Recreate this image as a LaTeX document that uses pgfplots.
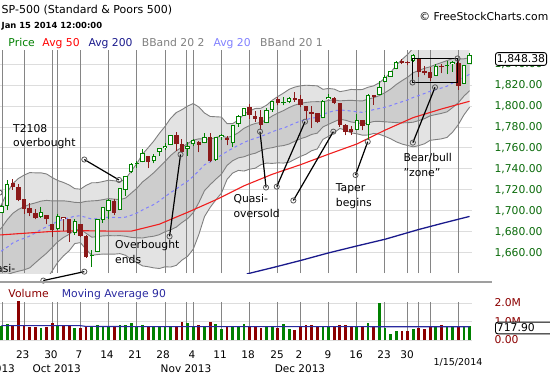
\documentclass[border=0pt]{standalone}
\usepackage{pgfplots}
\pgfplotsset{compat=1.18}
\usepgfplotslibrary{fillbetween}
\usepackage{pgfplotstable}
\usepackage{fontspec}
\setmainfont{DejaVu Sans}
\definecolor{cgreen}{HTML}{008000}
\definecolor{cred}{HTML}{8B1A1A}
\definecolor{lblgreen}{HTML}{0A6A0A}
\definecolor{navyc}{HTML}{1A1A8C}
\definecolor{avgtw}{HTML}{8080FF}
\definecolor{bandline}{HTML}{808080}
\definecolor{outerfill}{HTML}{E3E3E3}
\definecolor{innerfill}{HTML}{CDCDCD}
\definecolor{vline}{HTML}{858585}
\definecolor{hgrid}{HTML}{DDDDDD}
\definecolor{volred}{HTML}{8B0000}
\definecolor{volblue}{HTML}{2A2AA0}
\definecolor{redma}{HTML}{F01E1E}
\definecolor{circ}{HTML}{5A5A5A}
\newcommand\F{\fontsize{10.8bp}{13bp}\selectfont}
\pgfplotsset{
  cand/.style 2 args={only marks, mark=*, mark size=0pt, mark options={draw=none, fill=none}, forget plot,
    error bars/.cd, y dir=plus, y explicit, error mark=none,
    error bar style={line width=#1, draw=#2, solid, line cap=butt}},
  panel/.style={scale only axis, width=472bp, xmin=0.74, xmax=84.43,
    axis line style={draw=none}, major tick length=0pt, tick style={draw=none}, xtick=\empty,
    yticklabel pos=right, ymajorgrids, grid style={draw=hgrid, line width=0.8bp}},
  ann/.style={draw=black, solid, line width=1.2bp, mark=o, mark size=2.6bp,
    mark options={solid, draw=circ, line width=0.8bp, fill=none}, forget plot},
}
\pgfplotstableread{
i u2 u1 m l1 l2
0 1698.7 1678.7 1658.6 1638.6 1618.5
1 1705.9 1683.7 1661.6 1639.4 1617.2
2 1717.3 1691.3 1665.2 1639.1 1613.1
3 1725.8 1697.5 1669.2 1640.9 1612.6
4 1730.8 1701.3 1671.8 1642.3 1612.8
5 1734.0 1703.8 1673.7 1643.6 1613.4
6 1736.4 1706.1 1675.8 1645.5 1615.2
7 1736.2 1707.5 1678.9 1650.3 1621.6
8 1736.2 1709.2 1682.1 1655.0 1628.0
9 1735.1 1709.9 1684.7 1659.5 1634.3
10 1731.7 1709.4 1687.2 1665.0 1642.7
11 1728.8 1709.4 1689.9 1670.5 1651.0
12 1727.0 1709.5 1692.0 1674.5 1657.0
13 1724.6 1708.9 1693.2 1677.5 1661.8
14 1721.1 1708.0 1694.9 1681.8 1668.7
15 1720.6 1707.8 1695.1 1682.4 1669.6
16 1724.2 1709.0 1693.7 1678.5 1663.2
17 1726.7 1709.4 1692.1 1674.8 1657.5
18 1726.8 1709.7 1692.5 1675.3 1658.2
19 1727.9 1710.6 1693.3 1676.0 1658.7
20 1729.2 1711.6 1693.9 1676.3 1658.6
21 1728.6 1711.1 1693.6 1676.1 1658.6
22 1727.7 1710.6 1693.4 1676.3 1659.1
23 1730.3 1712.1 1693.9 1675.7 1657.5
24 1737.8 1716.8 1695.7 1674.6 1653.6
25 1745.0 1721.4 1697.8 1674.2 1650.6
26 1754.0 1727.4 1700.7 1674.0 1647.4
27 1760.1 1731.7 1703.4 1675.0 1646.6
28 1766.5 1736.3 1706.0 1675.7 1645.5
29 1773.9 1741.6 1709.4 1677.2 1644.9
30 1780.5 1747.0 1713.5 1680.0 1646.5
31 1788.3 1752.8 1717.3 1681.8 1646.3
32 1793.7 1757.2 1720.8 1684.4 1647.9
33 1796.5 1760.6 1724.7 1688.8 1652.9
34 1799.9 1764.1 1728.2 1692.4 1656.5
35 1802.3 1767.5 1732.8 1698.1 1663.3
36 1799.0 1768.6 1738.2 1707.8 1677.4
37 1793.3 1768.6 1743.9 1719.2 1694.5
38 1790.0 1768.3 1746.6 1724.9 1703.2
39 1789.7 1769.9 1750.0 1730.1 1710.3
40 1789.4 1771.3 1753.1 1734.9 1716.8
41 1783.2 1769.9 1756.6 1743.3 1730.0
42 1783.2 1771.4 1759.6 1747.8 1736.0
43 1786.5 1774.5 1762.5 1750.5 1738.5
44 1792.3 1778.7 1765.1 1751.5 1737.9
45 1795.3 1781.4 1767.5 1753.6 1739.7
46 1797.6 1783.3 1769.1 1754.9 1740.6
47 1797.8 1784.4 1770.9 1757.4 1744.0
48 1800.7 1786.9 1773.1 1759.3 1745.5
49 1805.4 1790.4 1775.3 1760.2 1745.2
50 1809.0 1793.2 1777.4 1761.5 1745.7
51 1812.3 1795.6 1778.9 1762.2 1745.5
52 1815.9 1798.5 1781.1 1763.7 1746.3
53 1818.0 1800.8 1783.6 1766.3 1749.1
54 1819.2 1802.4 1785.5 1768.7 1751.8
55 1819.8 1803.4 1786.9 1770.4 1754.0
56 1819.5 1804.0 1788.4 1772.8 1757.3
57 1819.2 1804.1 1789.1 1774.1 1759.0
58 1815.9 1804.0 1792.0 1780.0 1768.1
59 1816.7 1805.3 1793.9 1782.5 1771.1
60 1816.1 1805.8 1795.4 1785.0 1774.7
61 1813.7 1804.9 1796.1 1787.3 1778.5
62 1814.6 1805.2 1795.8 1786.4 1777.0
63 1815.8 1805.4 1795.1 1784.7 1774.3
64 1815.5 1805.0 1794.5 1784.0 1773.5
65 1815.7 1804.8 1793.9 1783.0 1772.1
66 1817.9 1806.5 1795.1 1783.7 1772.3
67 1819.2 1807.9 1796.5 1785.2 1773.8
68 1822.2 1809.9 1797.6 1785.3 1773.0
69 1826.6 1812.7 1798.8 1784.9 1771.0
70 1831.9 1816.1 1800.3 1784.5 1768.7
71 1838.8 1820.5 1802.3 1784.1 1765.8
72 1844.3 1824.1 1804.0 1783.9 1763.7
73 1849.1 1827.4 1805.7 1784.0 1762.3
74 1855.2 1831.7 1808.1 1784.5 1761.0
75 1857.8 1833.9 1810.0 1786.1 1762.2
76 1859.9 1835.9 1811.9 1787.9 1763.9
77 1860.8 1837.4 1814.0 1790.6 1767.2
78 1863.3 1839.5 1815.6 1791.8 1767.9
79 1865.6 1841.4 1817.1 1792.9 1768.6
80 1867.7 1843.3 1818.9 1794.4 1770.0
81 1868.7 1845.3 1821.9 1798.5 1775.1
82 1865.8 1844.9 1824.0 1803.1 1782.2
83 1862.9 1845.0 1827.2 1809.4 1791.5
84 1861.8 1846.1 1830.3 1814.6 1798.8
}\bands
\pgfplotstableread{
i v
0 1676.8
1 1677.0
5 1678.5
10 1680.3
15 1681.0
20 1680.6
24 1680.5
29 1687.2
34 1698.5
39 1710.4
44 1723.8
49 1734.8
54 1743.9
59 1754.0
64 1763.7
69 1776.9
74 1788.9
79 1797.1
84 1804.5
}\smafifty
\pgfplotstableread{
i v
44.5 1639.7
49.5 1646.3
54 1652.5
59 1659.8
64 1666.4
69 1672.8
74.9 1682.0
79 1687.8
82 1691.9
84 1694.6
}\smatwohundred
\pgfplotstableread{
i o h l c
1 1697.73 1705.52 1697.73 1704.76
2 1704.70 1729.44 1700.35 1725.52
8 1694.05 1703.85 1693.11 1698.67
11 1682.41 1696.55 1682.07 1695.00
14 1678.79 1691.94 1677.33 1690.50
18 1660.88 1692.56 1660.88 1692.56
19 1691.09 1703.44 1688.52 1703.20
20 1699.86 1711.03 1692.13 1710.14
22 1700.49 1721.76 1700.49 1721.54
23 1720.17 1733.45 1714.12 1733.15
24 1736.72 1745.31 1735.74 1744.50
26 1746.48 1759.33 1746.48 1754.67
28 1747.48 1753.94 1745.50 1752.07
29 1756.01 1759.82 1752.45 1759.77
30 1759.42 1764.99 1757.67 1762.11
31 1762.93 1772.09 1762.93 1771.95
34 1758.70 1765.67 1752.70 1761.64
35 1763.40 1768.78 1761.56 1767.93
37 1765.00 1773.74 1764.40 1770.49
39 1748.37 1770.78 1747.63 1770.61
40 1769.96 1773.44 1767.85 1771.89
42 1764.37 1782.00 1760.64 1782.00
43 1782.75 1791.53 1780.22 1790.62
44 1790.66 1798.22 1790.66 1798.18
48 1783.53 1798.15 1783.53 1795.85
49 1796.19 1804.84 1794.70 1804.76
52 1803.48 1808.27 1802.77 1807.23
58 1788.36 1806.04 1788.36 1805.09
59 1806.21 1811.52 1806.21 1808.37
64 1777.48 1792.22 1777.48 1786.54
66 1781.46 1811.08 1767.99 1810.65
68 1810.39 1823.75 1810.25 1818.32
69 1822.92 1829.75 1822.92 1827.99
70 1828.02 1833.32 1828.02 1833.32
71 1834.96 1842.84 1834.96 1842.02
74 1842.61 1849.44 1842.41 1848.36
78 1828.71 1840.10 1828.71 1837.88
81 1840.06 1843.15 1832.43 1842.37
83 1821.36 1839.26 1821.36 1838.88
84 1840.52 1850.84 1840.52 1848.38
}\candG
\pgfplotstableread{
i o h l c
3 1726.37 1729.86 1720.20 1722.34
4 1722.44 1725.23 1708.89 1709.91
5 1711.44 1711.44 1697.10 1701.84
6 1702.60 1707.63 1694.90 1697.42
7 1698.02 1701.71 1691.88 1692.77
9 1695.52 1695.52 1687.11 1691.75
10 1687.26 1687.26 1674.99 1681.55
13 1692.35 1692.35 1670.36 1678.66
15 1687.15 1687.15 1674.70 1676.12
16 1676.22 1676.79 1655.03 1655.45
21 1709.17 1711.57 1695.93 1698.06
27 1752.27 1752.27 1740.50 1746.38
32 1772.27 1775.22 1757.24 1763.31
33 1763.24 1768.53 1755.72 1756.54
36 1765.67 1767.03 1755.76 1762.97
38 1770.74 1774.54 1746.20 1747.15
41 1769.51 1771.78 1762.29 1767.69
45 1798.82 1802.33 1788.00 1791.53
46 1790.79 1795.51 1784.72 1787.87
47 1789.59 1795.73 1777.23 1781.37
50 1806.33 1808.10 1800.58 1802.48
53 1808.01 1813.55 1803.98 1805.81
54 1806.55 1810.02 1798.60 1800.90
55 1800.10 1800.10 1787.85 1795.15
56 1794.01 1799.80 1779.09 1792.81
57 1792.82 1792.82 1783.38 1785.03
60 1807.60 1808.52 1801.75 1802.62
61 1802.76 1802.97 1780.09 1782.22
62 1781.71 1782.99 1772.28 1775.50
63 1777.98 1780.92 1772.45 1775.32
65 1786.47 1786.77 1777.05 1781.00
72 1842.97 1844.89 1839.81 1841.40
73 1841.47 1842.47 1838.77 1841.07
75 1845.86 1845.86 1827.74 1831.98
76 1833.21 1838.24 1829.13 1831.37
77 1832.31 1837.16 1823.73 1826.77
79 1837.90 1840.02 1831.40 1837.49
82 1841.26 1843.45 1815.52 1819.20
}\candR
\pgfplotstableread{
i o h l c
12 1691.90 1693.87 1680.34 1693.87
67 1809.00 1810.88 1801.35 1809.60
}\candHR
\pgfplotstableread{
i o h l c
17 1656.99 1662.47 1646.47 1656.40
25 1745.20 1747.79 1740.67 1744.66
51 1802.87 1808.42 1800.77 1802.75
80 1839.00 1843.23 1830.38 1838.13
}\candFG
\pgfplotstableread{
i v
1 0.75
2 0.865
8 0.67
11 0.81
14 0.67
17 0.76
18 0.81
19 0.72
20 0.68
22 0.81
23 0.81
24 0.94
25 0.72
26 0.81
28 0.76
29 0.76
30 0.76
31 0.76
34 0.90
35 0.72
37 0.76
39 0.88
40 0.59
42 0.72
43 0.72
44 0.86
48 0.72
49 0.68
51 0.86
52 0.59
58 0.72
59 0.72
64 0.72
66 0.94
68 2.02
69 0.67
70 0.32
71 0.50
74 0.59
78 0.72
80 0.72
81 0.72
83 0.72
84 0.76
}\volG
\pgfplotstableread{
i v
3 0.81
4 2.12
5 0.77
6 0.72
7 0.72
9 0.72
10 0.94
12 0.77
13 0.77
15 0.67
16 0.76
21 0.72
27 0.76
32 0.76
33 0.97
36 0.81
38 0.97
41 0.72
45 0.72
46 0.68
47 0.63
50 0.67
53 0.54
54 0.72
55 0.81
56 0.81
57 0.76
60 0.72
61 0.81
62 0.81
63 0.72
65 0.72
67 0.76
72 0.50
73 0.50
75 0.67
76 0.59
77 0.72
79 0.81
82 0.72
}\volR
\pgfplotstableread{
i v
1 0.775
10 0.78
15 0.775
16 0.735
25 0.725
40 0.72
60 0.72
84 0.718
}\volma
\begin{document}
\begin{tikzpicture}[x=1bp,y=1bp]
% ---------------- price panel
\begin{axis}[panel, name=main, at={(0bp,-50bp)}, anchor=north west, height=223bp,
  ymin=1640.6, ymax=1853.4, ytick={1660,1680,...,1840}, scaled y ticks=false,
  yticklabel style={anchor=west, xshift=19bp, font=\F, text=lblgreen,
    /pgf/number format/.cd, fixed, fixed zerofill, precision=2, 1000 sep={,}, assume math mode=true}]
\addplot[draw=none, name path=U2, forget plot] table[x=i,y=u2]{\bands};
\addplot[draw=none, name path=L2, forget plot] table[x=i,y=l2]{\bands};
\addplot[draw=none, name path=U1, forget plot] table[x=i,y=u1]{\bands};
\addplot[draw=none, name path=L1, forget plot] table[x=i,y=l1]{\bands};
\addplot[fill=outerfill, draw=none, forget plot] fill between[of=U2 and L2];
\addplot[fill=innerfill, draw=none, forget plot] fill between[of=U1 and L1];
\pgfplotsinvokeforeach{1.22,5,10,10.9,15,20,25,30,33.75,35,40,45,50,54,59,64,69,73,74.9,77,82}{
  \draw[vline, line width=1bp] (axis cs:#1,1640.6) -- (axis cs:#1,1853.4);}
\addplot[bandline, line width=0.9bp, forget plot] table[x=i,y=u2]{\bands};
\addplot[bandline, line width=0.9bp, forget plot] table[x=i,y=l2]{\bands};
\addplot[bandline, line width=0.9bp, forget plot] table[x=i,y=u1]{\bands};
\addplot[bandline, line width=0.9bp, forget plot] table[x=i,y=l1]{\bands};
\addplot[avgtw, line width=1bp, dash pattern=on 3bp off 3bp, forget plot] table[x=i,y=m]{\bands};
\addplot[navyc, line width=1.3bp, forget plot] table[x=i,y=v]{\smatwohundred};
\addplot[redma, line width=1.1bp, forget plot] table[x=i,y=v]{\smafifty};
% candles: wicks
\addplot[cand={1bp}{cgreen}] table[x=i, y=l, y error plus expr=\thisrow{h}-\thisrow{l}]{\candG};
\addplot[cand={1bp}{cred}] table[x=i, y=l, y error plus expr=\thisrow{h}-\thisrow{l}]{\candR};
\addplot[cand={1bp}{cred}] table[x=i, y=l, y error plus expr=\thisrow{h}-\thisrow{l}]{\candHR};
\addplot[cand={1bp}{cgreen}] table[x=i, y=l, y error plus expr=\thisrow{h}-\thisrow{l}]{\candFG};
% bodies
\addplot[cand={4.4bp}{cgreen}] table[x=i, y=o, y error plus expr={max(\thisrow{c}-\thisrow{o},1)}]{\candG};
\addplot[cand={2.4bp}{white}] table[x=i, y expr=\thisrow{o}+0.95, y error plus expr={max(\thisrow{c}-\thisrow{o}-1.9,0)}]{\candG};
\addplot[cand={4.4bp}{cred}] table[x=i, y=o, y error plus expr={max(\thisrow{c}-\thisrow{o},1)}]{\candHR};
\addplot[cand={2.4bp}{white}] table[x=i, y expr=\thisrow{o}+0.95, y error plus expr={max(\thisrow{c}-\thisrow{o}-1.9,0)}]{\candHR};
\addplot[cand={4.4bp}{cred}] table[x=i, y=c, y error plus expr={max(\thisrow{o}-\thisrow{c},1)}]{\candR};
\addplot[cand={4.4bp}{cgreen}] table[x=i, y=c, y error plus expr={max(\thisrow{o}-\thisrow{c},1)}]{\candFG};
\end{axis}
% ---------------- annotations overlay
\begin{axis}[scale only axis, width=472bp, height=223bp, at={(main.north west)}, anchor=north west,
  xmin=0.74, xmax=84.43, ymin=1640.6, ymax=1853.4, hide axis, clip=false]
\addplot[ann] coordinates {(15.69,1748.9) (21.84,1729.4)};
\addplot[ann] coordinates {(30.80,1675.5) (32.75,1753.7)};
\addplot[ann] coordinates {(47.91,1722.2) (46.84,1775.5)};
\addplot[ann] coordinates {(49.81,1723.0) (54.82,1785.0)};
\addplot[ann] coordinates {(52.75,1709.8) (59.84,1775.5)};
\addplot[ann] coordinates {(63.78,1734.1) (65.94,1765.9)};
\addplot[ann] coordinates {(73.94,1765.0) (77.87,1817.8)};
\addplot[draw=black, solid, mark=none, line width=1.6bp, line join=miter, forget plot] coordinates {(73.88,1845.3) (81.86,1845.3) (81.86,1822.4) (73.88,1822.4) (73.88,1845.3)};
\addplot[ann, only marks] coordinates {(73.88,1822.4) (81.86,1845.3)};
\addplot[ann] coordinates {(15.69,1641.9) (8.42,1633.4)};
\addplot[ann, only marks] coordinates {(0.66,1717.3)};
\end{axis}
% ---------------- volume panel
\begin{axis}[panel, at={(main.south west)}, anchor=north west, yshift=-23bp, height=44bp,
  ymin=0, ymax=2.378, ytick={0,1,2}, yticklabels={0.00,1.0M,2.0M},
  yticklabel style={anchor=west, xshift=19bp, font=\F, text=volred}]
\pgfplotsinvokeforeach{1.22,5,10,10.9,15,20,25,30,33.75,35,40,45,50,54,59,64,69,73,74.9,77,82}{
  \draw[vline, line width=1bp] (axis cs:#1,0) -- (axis cs:#1,2.07);}
\addplot[ycomb, draw=cgreen, line width=2.8bp, mark=none, forget plot] table[x=i,y=v]{\volG};
\addplot[ycomb, draw=volred, line width=2.8bp, mark=none, forget plot] table[x=i,y=v]{\volR};
\addplot[volblue, line width=1.1bp, forget plot] table[x=i,y=v]{\volma};
\end{axis}
% ---------------- separators and boxes
\draw[gray!75, line width=1.4bp] (0,-282) -- (492,-282);
\node[draw=black, fill=white, rounded corners=2.5bp, inner xsep=1.5bp, inner ysep=1.8bp, anchor=west, font=\F, line width=0.9bp] at (495,-59) {1,848.38};
\node[draw=black, fill=white, rounded corners=2.5bp, inner xsep=1.5bp, inner ysep=1.8bp, anchor=west, font=\F, line width=0.9bp, text width=57bp, align=left] at (495,-328) {717.90};
% ---------------- header
\node[anchor=base west, inner sep=0, font=\fontsize{11bp}{13bp}\selectfont] at (1.5,-13.5) {SP-500 (Standard \& Poors 500)};
\node[anchor=base west, inner sep=0, font=\fontsize{8.4bp}{10bp}\selectfont\bfseries] at (1.5,-28.3) {Jan 15 2014 12:00:00};
\node[anchor=base east, inner sep=0, font=\F] at (548.5,-20.5) {© FreeStockCharts.com};
\node[anchor=base west, inner sep=0, font=\F, text=cgreen] at (8.3,-46.7) {Price};
\node[anchor=base west, inner sep=0, font=\F, text=red] at (42.3,-46.7) {Avg 50};
\node[anchor=base west, inner sep=0, font=\F, text=navyc] at (88.3,-46.7) {Avg 200};
\node[anchor=base west, inner sep=0, font=\F, text=gray] at (141.7,-46.7) {BBand 20 2};
\node[anchor=base west, inner sep=0, font=\F, text=avgtw] at (213.3,-46.7) {Avg 20};
\node[anchor=base west, inner sep=0, font=\F, text=gray] at (260,-46.7) {BBand 20 1};
% ---------------- annotation texts
\node[anchor=base west, inner sep=0, font=\F] at (13,-132.3) {T2108};
\node[anchor=base west, inner sep=0, font=\F] at (13,-146.7) {overbought};
\node[anchor=base west, inner sep=0, font=\F] at (115,-248.3) {Overbought};
\node[anchor=base west, inner sep=0, font=\F] at (115,-263.3) {ends};
\node[anchor=base west, inner sep=0, font=\F] at (233.3,-202.3) {Quasi-};
\node[anchor=base west, inner sep=0, font=\F] at (233.3,-217.7) {oversold};
\node[anchor=base west, inner sep=0, font=\F] at (335.7,-191.3) {Taper};
\node[anchor=base west, inner sep=0, font=\F] at (335.7,-206.3) {begins};
\node[anchor=base west, inner sep=0, font=\F] at (403.3,-161.7) {Bear/bull};
\node[anchor=base west, inner sep=0, font=\F] at (403.3,-176.7) {"zone"};
\node[anchor=base east, inner sep=0, font=\F] at (15.5,-272.7) {Quasi-};
% ---------------- volume labels
\node[anchor=base west, inner sep=0, font=\F, text=volred] at (8.3,-297) {Volume};
\node[anchor=base west, inner sep=0, font=\F, text=volblue] at (61.7,-297) {Moving Average 90};
% ---------------- date labels
\foreach \xx/\lab in {22.7/23, 51/30, 79/7, 107/14, 135/21, 163/28, 192/4, 220/11, 248/18, 277/25, 299/2, 328/9, 356/16, 384/23, 407/30}
  \node[anchor=base, inner sep=0, font=\fontsize{10.5bp}{12bp}\selectfont] at (\xx,-358.3) {\lab};
\foreach \xx/\lab in {-10/Sep 2013, 56.7/Oct 2013, 186/Nov 2013, 300/Dec 2013}
  \node[anchor=base, inner sep=0, font=\fontsize{10.5bp}{12bp}\selectfont] at (\xx,-372.3) {\lab};
\node[anchor=base, inner sep=0, font=\fontsize{9.5bp}{11bp}\selectfont] at (458,-365) {1/15/2014};
\pgfresetboundingbox
\path[use as bounding box] (0,0) rectangle (550,-375);
\end{tikzpicture}
\end{document}
